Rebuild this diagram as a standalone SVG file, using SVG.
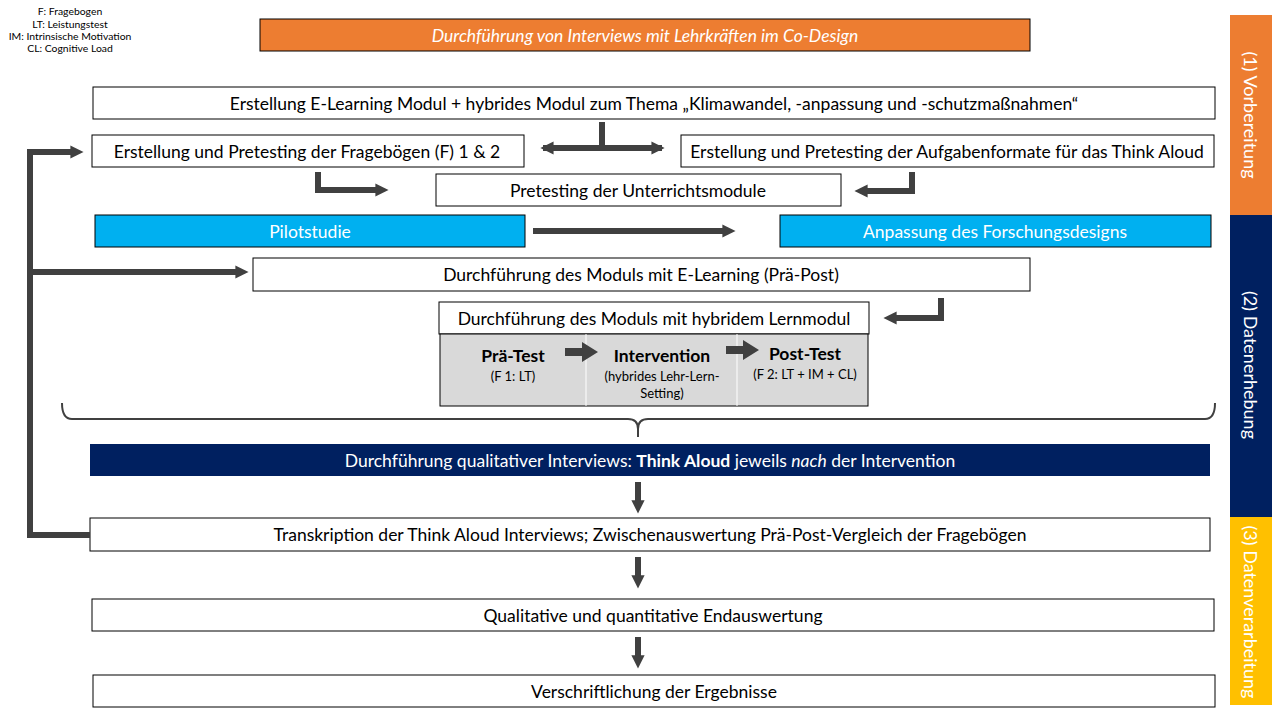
<svg xmlns="http://www.w3.org/2000/svg" width="1280" height="720" viewBox="0 0 1280 720">
<defs>
<style>
text{font-family:Lato,"Open Sans","Liberation Sans",sans-serif;text-anchor:middle;dominant-baseline:central}
.box{fill:#fff;stroke:#000;stroke-width:1}
.t{font-size:17.5px;fill:#000}
.w{font-size:17.5px;fill:#fff}
.leg{font-size:10.4px;fill:#000}
.ln{fill:none;stroke:#404040;stroke-width:6}
.ah{fill:#404040}
.side{font-size:18px;fill:#fff}
.b{font-weight:bold}
.s{font-size:13px;fill:#000}
</style>
<marker id="arr" viewBox="0 0 10 10" refX="2" refY="5" markerWidth="2.2" markerHeight="2.6" orient="auto" markerUnits="strokeWidth">
<path d="M0,0 L10,5 L0,10 z" fill="#404040"/>
</marker>
<marker id="arrs" viewBox="0 0 10 10" refX="8" refY="5" markerWidth="2.2" markerHeight="2.6" orient="auto-start-reverse" markerUnits="strokeWidth">
<path d="M0,0 L10,5 L0,10 z" fill="#404040"/>
</marker>
</defs>
<rect width="1280" height="720" fill="#fff"/>

<g id="legend">
<text class="leg" x="70" y="11">F: Fragebogen</text>
<text class="leg" x="70" y="24">LT: Leistungstest</text>
<text class="leg" x="70" y="36">IM: Intrinsische Motivation</text>
<text class="leg" x="70" y="48">CL: Cognitive Load</text>
</g>

<g id="phases">
<rect x="1230" y="15" width="42" height="200" fill="#ED7D31"/>
<rect x="1230" y="215" width="42" height="302" fill="#002060"/>
<rect x="1230" y="517" width="42" height="188" fill="#FFC000"/>
<text class="side" transform="translate(1251,115) rotate(90)">(1) Vorbereitung</text>
<text class="side" transform="translate(1251,365) rotate(90)">(2) Datenerhebung</text>
<text class="side" transform="translate(1251,612) rotate(90)">(3) Datenverarbeitung</text>
</g>

<g id="n-codesign">
<rect x="260" y="19" width="770" height="32" fill="#ED7D31" stroke="#000"/>
<text class="w" x="645" y="35" font-style="italic">Durchführung von Interviews mit Lehrkräften im Co-Design</text>
</g>
<g id="n-erstellung">
<rect class="box" x="93" y="87" width="1122" height="32"/>
<text class="t" x="654" y="103">Erstellung E-Learning Modul + hybrides Modul zum Thema „Klimawandel, -anpassung und -schutzmaßnahmen“</text>
</g>
<g id="n-frageboegen">
<rect class="box" x="92" y="135" width="432" height="32"/>
<text class="t" x="307" y="151">Erstellung und Pretesting der Fragebögen (F) 1 &amp; 2</text>
</g>
<g id="n-aufgaben">
<rect class="box" x="681" y="135" width="533" height="32"/>
<text class="t" x="947" y="151">Erstellung und Pretesting der Aufgabenformate für das Think Aloud</text>
</g>
<g id="n-pretesting">
<rect class="box" x="436" y="174" width="405" height="32"/>
<text class="t" x="638" y="190">Pretesting der Unterrichtsmodule</text>
</g>
<g id="n-pilot">
<rect x="95" y="215" width="430" height="32" fill="#00B0F0" stroke="#000"/>
<text class="w" x="310" y="231">Pilotstudie</text>
</g>
<g id="n-anpassung">
<rect x="780" y="215" width="431" height="32" fill="#00B0F0" stroke="#000"/>
<text class="w" x="995" y="231">Anpassung des Forschungsdesigns</text>
</g>
<g id="n-elearning">
<rect class="box" x="253" y="258" width="777" height="33"/>
<text class="t" x="641" y="274">Durchführung des Moduls mit E-Learning (Prä-Post)</text>
</g>
<g id="n-hybrid">
<rect class="box" x="439" y="302" width="430" height="32"/>
<text class="t" x="654" y="318">Durchführung des Moduls mit hybridem Lernmodul</text>
<rect x="440" y="334" width="428" height="72" fill="#D9D9D9" stroke="#000"/>
<line x1="586" y1="334" x2="586" y2="406" stroke="#fff" stroke-width="1"/>
<line x1="737" y1="334" x2="737" y2="406" stroke="#fff" stroke-width="1"/>
<text class="t b" x="513" y="355">Prä-Test</text>
<text class="s" x="513" y="376">(F 1: LT)</text>
<text class="t b" x="662" y="355">Intervention</text>
<text class="s" x="662" y="376">(hybrides Lehr-Lern-</text>
<text class="s" x="662" y="393">Setting)</text>
<text class="t b" x="805" y="353">Post-Test</text>
<text class="s" x="805" y="374">(F 2: LT + IM + CL)</text>
<path class="ah" d="M565,348 h17 v-6 l16,10 l-16,10 v-6 h-17 z"/>
<path class="ah" d="M726,346 h17 v-6 l16,10 l-16,10 v-6 h-17 z"/>
</g>
<g id="n-thinkaloud">
<rect x="90" y="444" width="1120" height="32" fill="#002060"/>
<text class="w" x="650" y="460">Durchführung qualitativer Interviews: <tspan font-weight="bold">Think Aloud</tspan> jeweils <tspan font-style="italic">nach</tspan> der Intervention</text>
</g>
<g id="n-transkription">
<rect class="box" x="90" y="518" width="1120" height="33"/>
<text class="t" x="650" y="534">Transkription der Think Aloud Interviews; Zwischenauswertung Prä-Post-Vergleich der Fragebögen</text>
</g>
<g id="n-endauswertung">
<rect class="box" x="92" y="599" width="1122" height="32"/>
<text class="t" x="653" y="615">Qualitative und quantitative Endauswertung</text>
</g>
<g id="n-verschriftlichung">
<rect class="box" x="93" y="675" width="1122" height="32"/>
<text class="t" x="654" y="691">Verschriftlichung der Ergebnisse</text>
</g>

<g id="connectors">
<path class="ln" d="M602,122 V148"/>
<path class="ln" d="M543,148 H662" marker-start="url(#arrs)" marker-end="url(#arrs)"/>
<path class="ln" d="M318,172 V190 H378" marker-end="url(#arr)"/>
<path class="ln" d="M912,172 V191 H865" marker-end="url(#arr)"/>
<path class="ln" d="M533,231 H725" marker-end="url(#arr)"/>
<path class="ln" d="M941,298 V318 H894" marker-end="url(#arr)"/>
<path class="ln" d="M90,535 H30 V152 H73" marker-end="url(#arr)"/>
<path class="ln" d="M30,272 H238" marker-end="url(#arr)"/>
<path class="ln" d="M638,482 V503" marker-end="url(#arr)"/>
<path class="ln" d="M638,557 V578" marker-end="url(#arr)"/>
<path class="ln" d="M638,637 V658" marker-end="url(#arr)"/>
<path d="M62,403 Q62,419 72,419 H628 Q638,419 638,429 V437 M638,429 Q638,419 648,419 H1205 Q1215,419 1215,403" fill="none" stroke="#404040" stroke-width="2"/>
</g>
</svg>
